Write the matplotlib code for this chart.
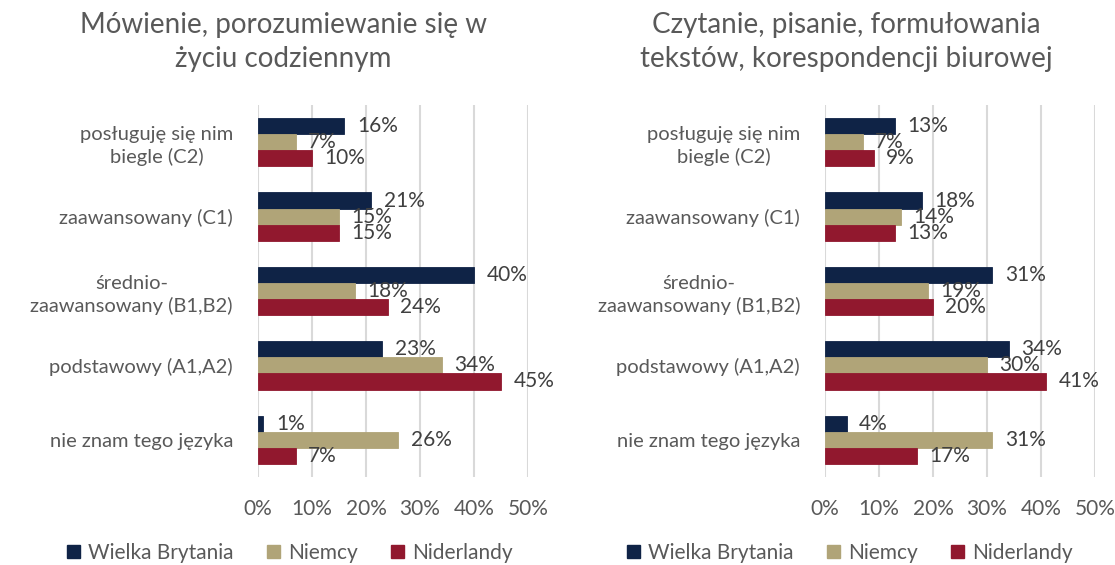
import matplotlib.pyplot as plt
from matplotlib.patches import Patch

plt.rcParams['font.family'] = ['Lato', 'DejaVu Sans']

categories = ['posługuję się nim\nbiegle (C2)', 'zaawansowany (C1)',
              'średnio-\nzaawansowany (B1,B2)', 'podstawowy (A1,A2)',
              'nie znam tego języka']
series = ['Wielka Brytania', 'Niemcy', 'Niderlandy']
colors = ['#0F2346', '#B0A478', '#91182E']

titles = ['Mówienie, porozumiewanie się w\nżyciu codziennym',
          'Czytanie, pisanie, formułowania\ntekstów, korespondencji biurowej']

# values in %, per series, per category (top to bottom)
speak_gb = [16, 21, 40, 23, 1]
speak_de = [7, 15, 18, 34, 26]
speak_nl = [10, 15, 24, 45, 7]

write_gb = [13, 18, 31, 34, 4]
write_de = [7, 14, 19, 30, 31]
write_nl = [9, 13, 20, 41, 17]

panels = [(speak_gb, speak_de, speak_nl), (write_gb, write_de, write_nl)]
xticks = [0, 10, 20, 30, 40, 50]

W, H = 1115, 565
fig = plt.figure(figsize=(W / 100, H / 100), dpi=100)

ax_left = [258, 825]
title_x = [283, 846]
legend_x = [290, 850]
bh = 0.216
offsets = [-bh, 0, bh]

for p in range(2):
    ax = fig.add_axes([ax_left[p] / W, (H - 477) / H, 270 / W, 372 / H])
    for s in range(3):
        vals = panels[p][s]
        ys = [i + offsets[s] for i in range(len(categories))]
        ax.barh(ys, vals, height=bh, color=colors[s], edgecolor=colors[s],
                linewidth=0.6, zorder=3)
        for y, v in zip(ys, vals):
            ax.annotate(f'{v}%', (v, y), xytext=(9, 0), textcoords='offset points',
                        ha='left', va='center', fontsize=15, color='#404040', zorder=4)
    ax.set_xlim(0, 50)
    ax.set_ylim(len(categories) - 0.5, -0.5)
    ax.set_xticks(xticks)
    ax.set_xticklabels([f'{t}%' for t in xticks], fontsize=15, color='#595959')
    ax.set_yticks(range(len(categories)))
    ax.set_yticklabels(categories, fontsize=14.5, color='#595959', linespacing=1.3)
    for lab in ax.get_yticklabels():
        lab.set_multialignment('center')
    ax.tick_params(length=0, axis='y', pad=18)
    ax.tick_params(length=0, axis='x', pad=16)
    ax.grid(axis='x', color='#D9D9D9', linewidth=1.5, zorder=0)
    for sp in ax.spines.values():
        sp.set_visible(False)

    fig.text(title_x[p] / W, 1 - 42 / H, titles[p], ha='center', va='center',
             fontsize=20, color='#595959', linespacing=1.35)

    handles = [Patch(facecolor=c, edgecolor=c) for c in colors]
    fig.legend(handles, series, loc='center', bbox_to_anchor=(legend_x[p] / W, 12 / H),
               ncol=3, frameon=False, fontsize=15, handlelength=0.6, handleheight=0.6,
               handletextpad=0.4, columnspacing=1.6, labelcolor='#595959')

fig.savefig('out.png', dpi=100)
